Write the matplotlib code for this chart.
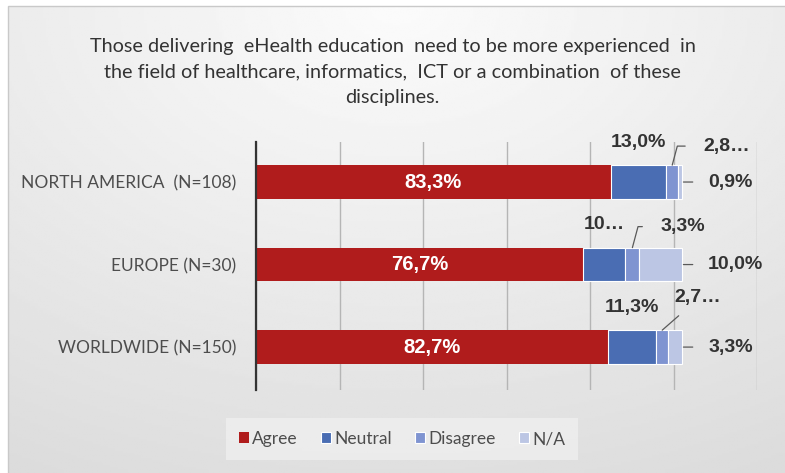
import matplotlib.pyplot as plt
import numpy as np
from matplotlib.patches import Rectangle

regions = ["NORTH AMERICA  (N=108)", "EUROPE (N=30)", "WORLDWIDE (N=150)"]
answers = ["Agree", "Neutral", "Disagree", "N/A"]
agree = [83.3, 76.7, 82.7]
neutral = [13.0, 10.0, 11.3]
disagree = [2.8, 3.3, 2.7]
na = [0.9, 10.0, 3.3]
# labels Excel cut short because they did not fit
short_labels = {(0, 2): "2,8…", (1, 1): "10…", (2, 2): "2,7…"}

colors = ["#b01c1c", "#4a6db3", "#7f94d1", "#bcc6e4"]
title = ("Those delivering  eHealth education  need to be more experienced  in\n"
         "the field of healthcare, informatics,  ICT or a combination  of these\n"
         "disciplines.")

W, H = 785, 473
fig = plt.figure(figsize=(W / 100, H / 100), dpi=100)
fig.patch.set_facecolor("white")

# grey panel with soft gradient behind everything
bg = fig.add_axes([8 / W, 0, 1 - 8 / W, 1 - 6 / H], zorder=-5)
yy, xx = np.mgrid[0:1:200j, 0:1:300j]
d = np.sqrt(((xx - 0.5) * 1.1) ** 2 + (yy * 1.0) ** 2)
grad = np.clip(0.985 - 0.11 * d, 0.86, 1)
bg.imshow(grad, cmap="gray", vmin=0, vmax=1, aspect="auto", extent=[0, 1, 1, 0])
bg.set_axis_off()
fig.add_artist(Rectangle((8 / W, -0.01), 1, 1 - 6 / H + 0.01, transform=fig.transFigure,
                         fill=False, edgecolor="#c9c9c9", lw=1))

fig.text(0.5, 1 - 72 / H, title, ha="center", va="center", fontsize=14.3,
         family="Lato", color="#333333", linespacing=1.62)

ax = fig.add_axes([256 / W, 1 - 390 / H, (757 - 256) / W, 248 / H])
ax.patch.set_alpha(0)
y = np.arange(len(regions))
series = [agree, neutral, disagree, na]
left = np.zeros(len(regions))
bar_h = 0.41
for i, vals in enumerate(series):
    ax.barh(y, vals, left=left, height=bar_h, color=colors[i], label=answers[i],
            edgecolor="white" if i else colors[i], linewidth=0.8 if i else 0, zorder=3)
    left += np.array(vals)

def fmt(v):
    return f"{v:.1f}".replace(".", ",") + "%"

lab = dict(fontsize=14, fontweight="bold", family="Liberation Sans", color="#333333")
line = dict(arrowstyle="-", color="#595959", lw=0.9)

for r in range(len(regions)):
    # agree inside
    ax.text(agree[r] / 2, y[r], fmt(agree[r]), ha="center", va="center",
            color="white", fontsize=14.5, fontweight="bold", family="Liberation Sans", zorder=4)
    # neutral above the segment
    txt = short_labels.get((r, 1), fmt(neutral[r]))
    ax.annotate(txt, xy=(agree[r] + neutral[r] / 2, y[r] - bar_h / 2),
                xytext=(0, 23), textcoords="offset pixels", ha="center", va="center", **lab)

# disagree labels with leader lines (offsets in pixels)
dis_off = [(31, 19), (28, 21), (35, 33)]
for r in range(len(regions)):
    txt = short_labels.get((r, 2), fmt(disagree[r]))
    xs = agree[r] + neutral[r] + disagree[r] / 2
    dx, dy = dis_off[r]
    if r == 2:
        ax.annotate(txt, xy=(xs, y[r] - bar_h / 2), xytext=(dx, dy), textcoords="offset pixels",
                    ha="center", va="center",
                    arrowprops=dict(line, relpos=(0.35, 0), shrinkA=8, shrinkB=0), **lab)
    else:
        ax.annotate(txt, xy=(xs, y[r] - bar_h / 2), xytext=(dx, dy), textcoords="offset pixels",
                    ha="left", va="center",
                    arrowprops=dict(line, relpos=(0, 0.5), shrinkA=11, shrinkB=0,
                                    connectionstyle="angle,angleA=0,angleB=75"), **lab)

# N/A labels to the right of the bar end
for r in range(len(regions)):
    total = agree[r] + neutral[r] + disagree[r] + na[r]
    ax.annotate(fmt(na[r]), xy=(total, y[r]), xytext=(26, 0), textcoords="offset pixels",
                ha="left", va="center",
                arrowprops=dict(line, relpos=(0, 0.5), shrinkA=9, shrinkB=1), **lab)

ax.set_xlim(0, 117.6)
ax.set_ylim(2.52, -0.485)
ax.set_xticks(np.linspace(0, 117.6, 7))
ax.set_xticklabels([])
ax.set_yticks(y)
ax.set_yticklabels(regions, fontsize=12.5, family="Lato", color="#4d4d4d")
ax.tick_params(axis="y", length=0, pad=14)
ax.tick_params(axis="x", length=0)
ax.grid(axis="x", color="#b5b5b5", lw=1, zorder=0)
for s in ["top", "right", "bottom"]:
    ax.spines[s].set_visible(False)
ax.spines["left"].set_color("#333333")
ax.spines["left"].set_linewidth(1.6)
ax.spines["left"].set_zorder(5)

leg = fig.legend(loc="center", bbox_to_anchor=(402 / W, 1 - 439 / H), ncol=4,
                 frameon=True, handlelength=0.6, handleheight=0.6,
                 handletextpad=0.2, columnspacing=1.3, borderpad=0.45,
                 prop={"family": "Lato", "size": 12.5})
leg.get_frame().set_facecolor("#efefef")
leg.get_frame().set_edgecolor("none")
leg.get_frame().set_boxstyle("square")
for t in leg.get_texts():
    t.set_color("#4d4d4d")

fig.savefig("out.png", dpi=100)
